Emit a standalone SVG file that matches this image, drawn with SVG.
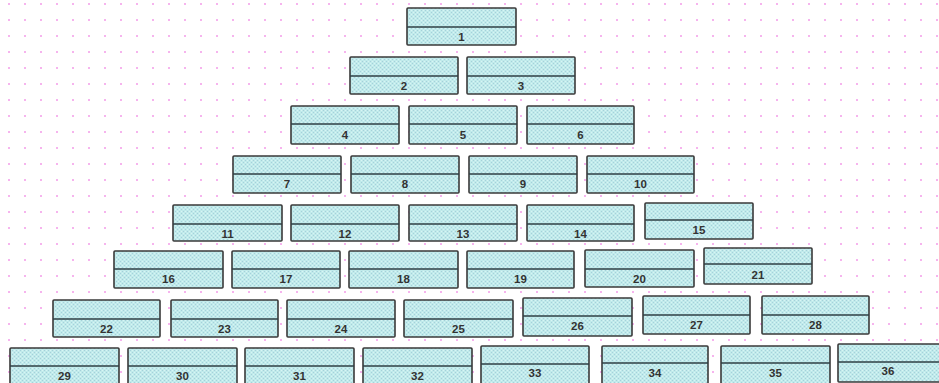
<svg xmlns="http://www.w3.org/2000/svg" width="939" height="383" viewBox="0 0 939 383">
<defs>
<pattern id="grid" x="8" y="3" width="16" height="16" patternUnits="userSpaceOnUse">
<rect x="0" y="0" width="2" height="2" fill="#f6b4ee"/>
</pattern>
<pattern id="fillpat" x="0" y="0" width="4" height="4" patternUnits="userSpaceOnUse">
<rect width="4" height="4" fill="#c0eaeb"/>
<rect x="0" y="0" width="1" height="1" fill="#a6d0da"/>
<rect x="2" y="2" width="1" height="1" fill="#a6d0da"/>
<rect x="2" y="0" width="1" height="1" fill="#d8f4f4"/>
<rect x="0" y="2" width="1" height="1" fill="#d8f4f4"/>
</pattern>
</defs>
<style>
.box{fill:url(#fillpat);stroke:#3a3a3a;stroke-width:1.6}
.div{stroke:#2f3f44;stroke-width:1.6}
.lbl{font-family:"Liberation Sans",Arial,sans-serif;font-size:11.5px;font-weight:bold;fill:#333;text-anchor:middle}
</style>
<rect width="939" height="383" fill="#ffffff"/>
<rect width="939" height="383" fill="url(#grid)"/>
<g id="connectors"></g>
<g id="node1" transform="translate(407,8)"><rect class="box" width="109" height="37" rx="1"/><line class="div" x1="0" y1="19" x2="109" y2="19"/><text class="lbl" x="54.5" y="33">1</text></g>
<g id="node2" transform="translate(350,57)"><rect class="box" width="108" height="37" rx="1"/><line class="div" x1="0" y1="19" x2="108" y2="19"/><text class="lbl" x="54" y="33">2</text></g>
<g id="node3" transform="translate(467,57)"><rect class="box" width="108" height="37" rx="1"/><line class="div" x1="0" y1="19" x2="108" y2="19"/><text class="lbl" x="54" y="33">3</text></g>
<g id="node4" transform="translate(291,106)"><rect class="box" width="108" height="38" rx="1"/><line class="div" x1="0" y1="18" x2="108" y2="18"/><text class="lbl" x="54" y="33">4</text></g>
<g id="node5" transform="translate(409,106)"><rect class="box" width="108" height="38" rx="1"/><line class="div" x1="0" y1="18" x2="108" y2="18"/><text class="lbl" x="54" y="33">5</text></g>
<g id="node6" transform="translate(527,106)"><rect class="box" width="107" height="38" rx="1"/><line class="div" x1="0" y1="18" x2="107" y2="18"/><text class="lbl" x="53.5" y="33">6</text></g>
<g id="node7" transform="translate(233,156)"><rect class="box" width="108" height="37" rx="1"/><line class="div" x1="0" y1="18" x2="108" y2="18"/><text class="lbl" x="54" y="32">7</text></g>
<g id="node8" transform="translate(351,156)"><rect class="box" width="108" height="37" rx="1"/><line class="div" x1="0" y1="18" x2="108" y2="18"/><text class="lbl" x="54" y="32">8</text></g>
<g id="node9" transform="translate(469,156)"><rect class="box" width="108" height="37" rx="1"/><line class="div" x1="0" y1="18" x2="108" y2="18"/><text class="lbl" x="54" y="32">9</text></g>
<g id="node10" transform="translate(587,156)"><rect class="box" width="107" height="37" rx="1"/><line class="div" x1="0" y1="18" x2="107" y2="18"/><text class="lbl" x="53.5" y="32">10</text></g>
<g id="node11" transform="translate(173,205)"><rect class="box" width="109" height="36" rx="1"/><line class="div" x1="0" y1="19" x2="109" y2="19"/><text class="lbl" x="54.5" y="33">11</text></g>
<g id="node12" transform="translate(291,205)"><rect class="box" width="108" height="36" rx="1"/><line class="div" x1="0" y1="19" x2="108" y2="19"/><text class="lbl" x="54" y="33">12</text></g>
<g id="node13" transform="translate(409,205)"><rect class="box" width="108" height="36" rx="1"/><line class="div" x1="0" y1="19" x2="108" y2="19"/><text class="lbl" x="54" y="33">13</text></g>
<g id="node14" transform="translate(527,205)"><rect class="box" width="107" height="36" rx="1"/><line class="div" x1="0" y1="19" x2="107" y2="19"/><text class="lbl" x="53.5" y="33">14</text></g>
<g id="node15" transform="translate(645,203)"><rect class="box" width="108" height="36" rx="1"/><line class="div" x1="0" y1="17" x2="108" y2="17"/><text class="lbl" x="54" y="31">15</text></g>
<g id="node16" transform="translate(114,251)"><rect class="box" width="109" height="37" rx="1"/><line class="div" x1="0" y1="18" x2="109" y2="18"/><text class="lbl" x="54.5" y="32">16</text></g>
<g id="node17" transform="translate(232,251)"><rect class="box" width="108" height="37" rx="1"/><line class="div" x1="0" y1="18" x2="108" y2="18"/><text class="lbl" x="54" y="32">17</text></g>
<g id="node18" transform="translate(349,251)"><rect class="box" width="109" height="37" rx="1"/><line class="div" x1="0" y1="18" x2="109" y2="18"/><text class="lbl" x="54.5" y="32">18</text></g>
<g id="node19" transform="translate(467,251)"><rect class="box" width="107" height="37" rx="1"/><line class="div" x1="0" y1="18" x2="107" y2="18"/><text class="lbl" x="53.5" y="32">19</text></g>
<g id="node20" transform="translate(585,250)"><rect class="box" width="109" height="37" rx="1"/><line class="div" x1="0" y1="19" x2="109" y2="19"/><text class="lbl" x="54.5" y="33">20</text></g>
<g id="node21" transform="translate(704,248)"><rect class="box" width="108" height="36" rx="1"/><line class="div" x1="0" y1="16" x2="108" y2="16"/><text class="lbl" x="54" y="31">21</text></g>
<g id="node22" transform="translate(53,300)"><rect class="box" width="107" height="37" rx="1"/><line class="div" x1="0" y1="19" x2="107" y2="19"/><text class="lbl" x="53.5" y="33">22</text></g>
<g id="node23" transform="translate(171,300)"><rect class="box" width="107" height="37" rx="1"/><line class="div" x1="0" y1="19" x2="107" y2="19"/><text class="lbl" x="53.5" y="33">23</text></g>
<g id="node24" transform="translate(287,300)"><rect class="box" width="108" height="37" rx="1"/><line class="div" x1="0" y1="19" x2="108" y2="19"/><text class="lbl" x="54" y="33">24</text></g>
<g id="node25" transform="translate(404,300)"><rect class="box" width="109" height="37" rx="1"/><line class="div" x1="0" y1="19" x2="109" y2="19"/><text class="lbl" x="54.5" y="33">25</text></g>
<g id="node26" transform="translate(523,298)"><rect class="box" width="109" height="38" rx="1"/><line class="div" x1="0" y1="18" x2="109" y2="18"/><text class="lbl" x="54.5" y="32">26</text></g>
<g id="node27" transform="translate(643,296)"><rect class="box" width="107" height="38" rx="1"/><line class="div" x1="0" y1="19" x2="107" y2="19"/><text class="lbl" x="53.5" y="33">27</text></g>
<g id="node28" transform="translate(762,296)"><rect class="box" width="107" height="38" rx="1"/><line class="div" x1="0" y1="19" x2="107" y2="19"/><text class="lbl" x="53.5" y="33">28</text></g>
<g id="node29" transform="translate(10,348)"><rect class="box" width="109" height="37" rx="1"/><line class="div" x1="0" y1="18" x2="109" y2="18"/><text class="lbl" x="54.5" y="32">29</text></g>
<g id="node30" transform="translate(128,348)"><rect class="box" width="109" height="37" rx="1"/><line class="div" x1="0" y1="18" x2="109" y2="18"/><text class="lbl" x="54.5" y="32">30</text></g>
<g id="node31" transform="translate(245,348)"><rect class="box" width="109" height="37" rx="1"/><line class="div" x1="0" y1="18" x2="109" y2="18"/><text class="lbl" x="54.5" y="32">31</text></g>
<g id="node32" transform="translate(363,348)"><rect class="box" width="109" height="37" rx="1"/><line class="div" x1="0" y1="18" x2="109" y2="18"/><text class="lbl" x="54.5" y="32">32</text></g>
<g id="node33" transform="translate(481,346)"><rect class="box" width="108" height="38" rx="1"/><line class="div" x1="0" y1="18" x2="108" y2="18"/><text class="lbl" x="54" y="31">33</text></g>
<g id="node34" transform="translate(602,346)"><rect class="box" width="106" height="38" rx="1"/><line class="div" x1="0" y1="17" x2="106" y2="17"/><text class="lbl" x="53" y="31">34</text></g>
<g id="node35" transform="translate(721,346)"><rect class="box" width="109" height="38" rx="1"/><line class="div" x1="0" y1="17" x2="109" y2="17"/><text class="lbl" x="54.5" y="31">35</text></g>
<g id="node36" transform="translate(838,344)"><rect class="box" width="108" height="38" rx="1"/><line class="div" x1="0" y1="18" x2="108" y2="18"/><text class="lbl" x="50" y="31">36</text></g>
</svg>
